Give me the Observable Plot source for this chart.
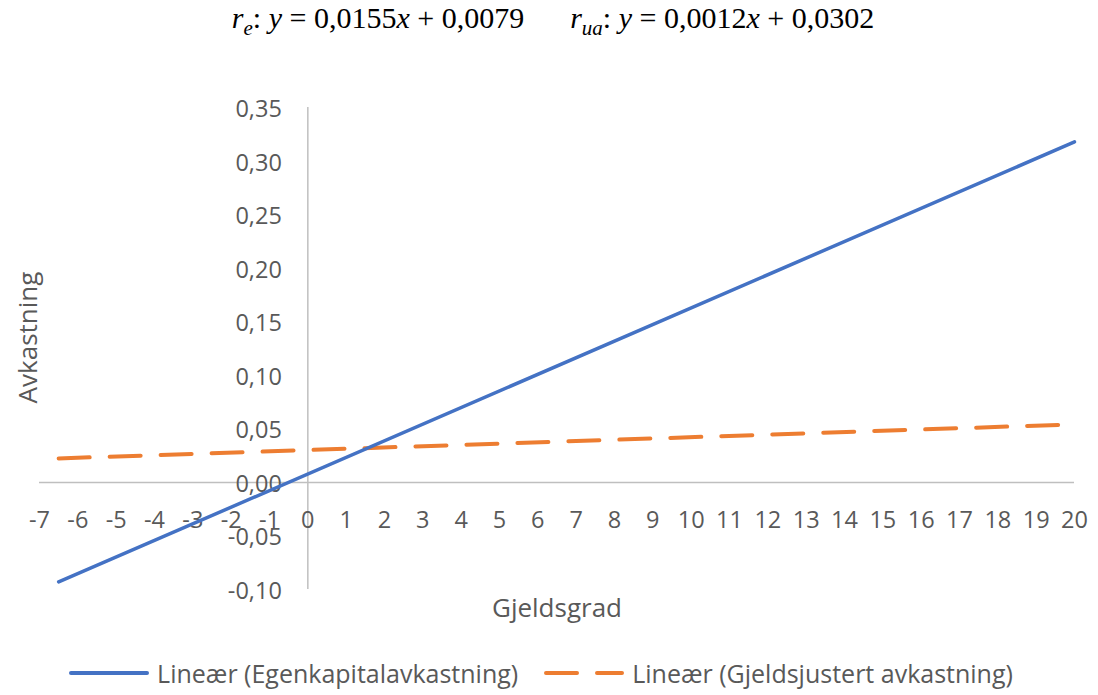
<!DOCTYPE html>
<html>
<head>
<meta charset="utf-8">
<script src="https://cdn.jsdelivr.net/npm/d3@7"></script>
<script src="https://cdn.jsdelivr.net/npm/@observablehq/plot@0.6"></script>
<style>
  body { margin: 0; background: #fff; }
  #wrap { width: 1098px; height: 695px; position: relative; overflow: hidden; }
  #title {
    height: 60px; display: flex; justify-content: center; align-items: flex-start;
    padding-top: 1px; box-sizing: border-box; padding-left: 8px;
    font-family: "Liberation Serif", "DejaVu Serif", serif; font-size: 30px; color: #000;
  }
  #title .eq { white-space: nowrap; }
  #title .eq + .eq { margin-left: 46px; }
  #title i { font-style: italic; }
  #title sub { font-size: 0.7em; font-style: italic; vertical-align: -0.35em; line-height: 0; }
  #legend {
    position: absolute; left: 0; top: 653px; width: 1098px; height: 40px;
    display: flex; justify-content: center; align-items: center;
    padding-right: 16px; box-sizing: border-box;
    font-family: "Open Sans", sans-serif; font-size: 25px; line-height: 32px; color: #595959;
  }
  #legend .item { display: flex; align-items: center; }
  #legend .item + .item { margin-left: 26px; }
  #legend svg { margin-right: 8px; }
  #chart svg { display: block; }
</style>
</head>
<body>
<div id="wrap">
  <div id="title">
    <span class="eq"><i>r</i><sub>e</sub>: <i>y</i> = 0,0155<i>x</i> + 0,0079</span>
    <span class="eq"><i>r</i><sub>ua</sub>: <i>y</i> = 0,0012<i>x</i> + 0,0302</span>
  </div>
  <div id="chart"></div>
  <div id="legend"></div>
</div>
<script>
// Trend lines evaluated at the ends of the gjeldsgrad range
const gjeldsgrad = [-6.5, 20];
const egenkapitalavkastning = [-0.0929, 0.3179];   // r_e = 0,0155x + 0,0079
const gjeldsjustertAvkastning = [0.0224, 0.0542];   // r_ua = 0,0012x + 0,0302

const seriesNames = ["Lineær (Egenkapitalavkastning)", "Lineær (Gjeldsjustert avkastning)"];
const seriesColors = ["#4472C4", "#ED7D31"];

const xTicks = d3.range(-7, 21);
const yTicks = [-0.10, -0.05, 0, 0.05, 0.10, 0.15, 0.20, 0.25, 0.30, 0.35];

const eData = gjeldsgrad.map((x, i) => ({x, y: egenkapitalavkastning[i]}));
const uaData = gjeldsgrad.map((x, i) => ({x, y: gjeldsjustertAvkastning[i]}));

const fmt = v => v.toFixed(2).replace(".", ",").replace("-0,00", "0,00");
const font = "Open Sans, sans-serif";
const grey = "#595959";

const chart = Plot.plot({
  width: 1098,
  height: 580,
  marginLeft: 39,
  marginRight: 24,
  marginTop: 47,
  marginBottom: 51,
  x: {domain: [-7, 20], axis: null},
  y: {domain: [-0.10, 0.35], axis: null},
  style: {fontFamily: font, overflow: "visible"},
  marks: [
    Plot.ruleY([0], {x1: -7, x2: 20, stroke: "#BFBFBF", strokeWidth: 1.5}),
    Plot.ruleX([0], {y1: -0.10, y2: 0.35, stroke: "#BFBFBF", strokeWidth: 1.5}),
    Plot.text(xTicks, {x: d => d, y: 0, text: d => String(d), dy: 38, fontSize: 23.5, fill: grey}),
    Plot.text(yTicks, {x: 0, y: d => d, text: fmt, textAnchor: "end", dx: -26, dy: 2, fontSize: 23.5, fill: grey}),
    Plot.line(uaData, {x: "x", y: "y", stroke: seriesColors[1], strokeWidth: 4,
      strokeDasharray: "31,20", strokeLinecap: "round"}),
    Plot.line(eData, {x: "x", y: "y", stroke: seriesColors[0], strokeWidth: 3.5, strokeLinecap: "round"}),
    Plot.text(["Gjeldsgrad"], {frameAnchor: "bottom", dy: 27, fontSize: 26, fill: grey}),
    Plot.text(["Avkastning"], {frameAnchor: "left", textAnchor: "middle", rotate: -90, dx: -11, dy: -11, fontSize: 26, fill: grey})
  ]
});
document.getElementById("chart").appendChild(chart);

// Legend
const legend = d3.select("#legend");
seriesNames.forEach((name, i) => {
  const item = legend.append("div").attr("class", "item");
  const s = item.append("svg").attr("width", 80).attr("height", 10);
  s.append("line").attr("x1", 2).attr("x2", 78).attr("y1", 5).attr("y2", 5)
    .attr("stroke", seriesColors[i]).attr("stroke-width", 4).attr("stroke-linecap", "round")
    .attr("stroke-dasharray", i === 1 ? "31,20" : null);
  item.append("span").text(name);
});
</script>
</body>
</html>
